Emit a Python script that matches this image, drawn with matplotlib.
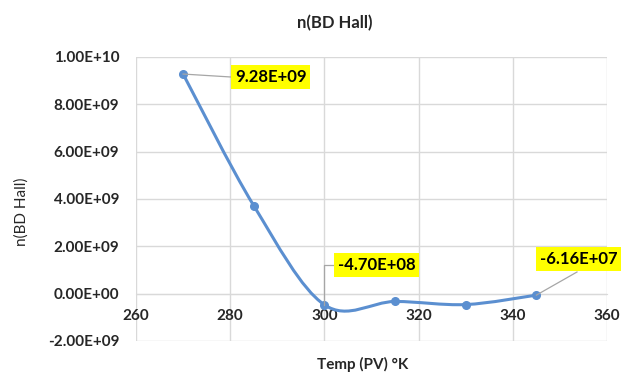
import matplotlib
matplotlib.use("Agg")
import matplotlib.pyplot as plt
from matplotlib.path import Path
from matplotlib.patches import PathPatch
import numpy as np

plt.rcParams['font.family'] = ['Lato', 'DejaVu Sans']

temps = [270, 285, 300, 315, 330, 345]
n_hall = [9.28e9, 3.72e9, -4.70e8, -3.3e8, -4.6e8, -6.16e7]
labelled = {0: "9.28E+09", 2: "-4.70E+08", 5: "-6.16E+07"}
x_ticks = [260, 280, 300, 320, 340, 360]
y_ticks = [-2e9, 0, 2e9, 4e9, 6e9, 8e9, 1e10]
y_tick_labels = ["-2.00E+09", "0.00E+00", "2.00E+09", "4.00E+09",
                 "6.00E+09", "8.00E+09", "1.00E+10"]

line_color = '#5B8FD0'
grid_color = '#D9D9D9'
text_color = '#262626'

fig = plt.figure(figsize=(6.22, 3.74), dpi=100)
ax = fig.add_axes([136 / 622, 1 - 341 / 374, (607 - 136) / 622, (341 - 57) / 374])

# smoothed line like Excel (Catmull-Rom as cubic Bezier segments)
pts = np.column_stack([temps, n_hall])
verts = [pts[0]]
codes = [Path.MOVETO]
for i in range(len(pts) - 1):
    p0 = pts[i - 1] if i > 0 else pts[i]
    p1 = pts[i]
    p2 = pts[i + 1]
    p3 = pts[i + 2] if i + 2 < len(pts) else pts[i + 1]
    verts += [p1 + (p2 - p0) / 6, p2 - (p3 - p1) / 6, p2]
    codes += [Path.CURVE4] * 3
ax.add_patch(PathPatch(Path(verts, codes), facecolor='none', edgecolor=line_color,
                       lw=2.2, zorder=3, capstyle='round'))
ax.plot(temps, n_hall, 'o', color=line_color, ms=5.5, zorder=4)

ax.set_xlim(260, 360)
ax.set_ylim(-2e9, 1e10)
ax.set_xticks(x_ticks)
ax.set_yticks(y_ticks)
ax.set_yticklabels(y_tick_labels)
ax.grid(True, color=grid_color, lw=1)
ax.set_axisbelow(True)
for s in ['top', 'right', 'left']:
    ax.spines[s].set_visible(False)
ax.spines['bottom'].set_position(('data', 0))
ax.spines['bottom'].set_color(grid_color)
ax.tick_params(length=0, labelsize=11, labelcolor=text_color)
ax.tick_params(axis='y', pad=12)
ax.tick_params(axis='x', pad=11)
for lab in ax.get_xticklabels() + ax.get_yticklabels():
    lab.set_fontweight('bold')

# data labels with leader lines (box left edge, box centre y in pixels)
box = dict(boxstyle='square,pad=0.22', fc='#FFFF00', ec='none')
offsets = {0: (235, 77), 2: (338, 265), 5: (540, 259)}
for i, txt in labelled.items():
    bx, by = offsets[i]
    px, py = ax.transData.transform((temps[i], n_hall[i]))
    tx, ty = bx, 374 - by
    fig.text(tx / 622, ty / 374, txt, fontsize=12, fontweight='bold',
             color='black', ha='left', va='center', bbox=box, zorder=5)
    if i == 0:
        xs, ys = [px, tx - 4], [py, ty]
    elif i == 2:
        xs, ys = [px, px, tx - 4], [py, ty, ty]
    else:
        xs, ys = [px, 577], [py, ty - 13]
    fig.add_artist(plt.Line2D(np.array(xs) / 622, np.array(ys) / 374,
                              color='#A6A6A6', lw=0.9, transform=fig.transFigure,
                              zorder=2))

fig.text(335 / 622, 1 - 23 / 374, "n(BD Hall)", fontsize=12, fontweight='bold',
         color=text_color, ha='center', va='center')
fig.text(22 / 622, 1 - 212 / 374, "n(BD Hall)", fontsize=11, color=text_color,
         rotation=90, ha='center', va='center')
fig.text(363 / 622, 2 / 374, "Temp (PV) °K", fontsize=11, fontweight='bold',
         color=text_color, ha='center', va='bottom')

fig.savefig("out.png", dpi=100)
